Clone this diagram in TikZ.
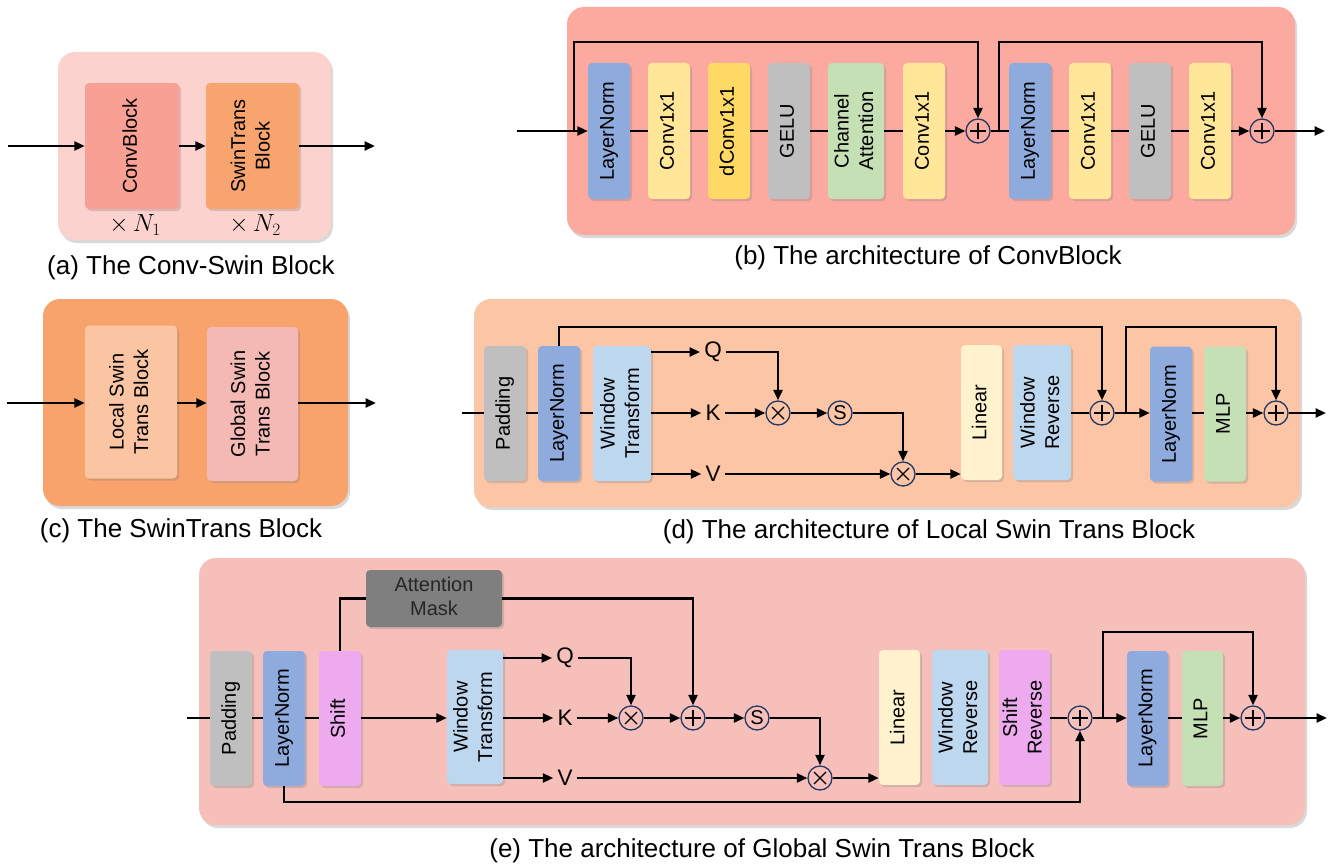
\documentclass[tikz,border=0pt]{standalone}
\usepackage{fontspec}
\usepackage{graphicx}
\setmainfont{Liberation Sans}
\usetikzlibrary{arrows.meta,shadows,calc}

\definecolor{bgA}{RGB}{252,210,207}
\definecolor{convC}{RGB}{249,160,148}
\definecolor{swinC}{RGB}{248,164,110}
\definecolor{bgB}{RGB}{252,169,160}
\definecolor{lnC}{RGB}{143,170,220}
\definecolor{c11C}{RGB}{255,230,153}
\definecolor{dcC}{RGB}{255,217,102}
\definecolor{grC}{RGB}{191,191,191}
\definecolor{grnC}{RGB}{197,224,180}
\definecolor{bgC}{RGB}{248,163,107}
\definecolor{locC}{RGB}{251,196,162}
\definecolor{gloC}{RGB}{244,185,181}
\definecolor{bgD}{RGB}{252,197,165}
\definecolor{wtC}{RGB}{189,215,238}
\definecolor{linC}{RGB}{255,242,204}
\definecolor{bgE}{RGB}{247,191,186}
\definecolor{shC}{RGB}{238,170,238}
\definecolor{amC}{RGB}{127,127,127}
\definecolor{navyC}{RGB}{32,56,100}

\newcommand\vt[1]{\rotatebox{90}{\begin{tabular}{@{}c@{}}#1\end{tabular}}}

\tikzset{
  panel/.style={rounded corners=17pt, draw=none, inner sep=0pt,
    drop shadow={shadow xshift=2pt, shadow yshift=-3pt, opacity=0.3}},
  blk/.style={rounded corners=4pt, draw=none, inner sep=0pt,
    font=\fontsize{20}{24.5}\selectfont,
    drop shadow={shadow xshift=2pt, shadow yshift=-2pt, opacity=0.3}},
  conn/.style={line width=2.4pt, black},
  arr/.style={conn, -{Triangle[length=10.5pt,width=9pt]}},
  op/.style={circle, draw=navyC, line width=1.3pt, minimum size=24pt, inner sep=0pt},
  oplus/.style={op, path picture={
    \draw[black, line width=1.3pt]
      ($(path picture bounding box.center)+(-8pt,0pt)$) -- ++(16pt,0pt)
      ($(path picture bounding box.center)+(0pt,-8pt)$) -- ++(0pt,16pt);}},
  otimes/.style={op, path picture={
    \draw[black, line width=1.3pt]
      ($(path picture bounding box.center)+(-6pt,-6pt)$) -- ++(12pt,12pt)
      ($(path picture bounding box.center)+(-6pt,6pt)$) -- ++(12pt,-12pt);}},
  osm/.style={op, font=\fontsize{20}{24}\selectfont},
  lbl/.style={inner sep=4pt, font=\fontsize{22.5}{26}\selectfont},
  captxt/.style={inner sep=0pt, font=\fontsize{26}{30}\selectfont},
  mult/.style={inner sep=0pt, font=\fontsize{25}{30}\selectfont},
}

\begin{document}
\begin{tikzpicture}[x=1pt, y=-1pt]
\useasboundingbox (0,0) rectangle (1335,867);

% ================= (a) =================
\node[panel, fill=bgA, minimum width=273pt, minimum height=188pt] (pa) at (194.5,146) {};
\node[blk, fill=convC, minimum width=94pt, minimum height=126pt] (convb) at (132,146) {\vt{ConvBlock}};
\node[blk, fill=swinC, minimum width=93pt, minimum height=126pt] (swinb) at (252.5,146) {\vt{SwinTrans\\Block}};
\node[mult] (n1) at (135,225) {$\times\,N_1$};
\node[mult] (n2) at (255,225) {$\times\,N_2$};
\coordinate (ain) at (8,146);
\coordinate (aout) at (375,146);
\draw[arr] (ain) -- (convb);
\draw[arr] (convb) -- (swinb);
\draw[arr] (swinb) -- (aout);
\node[captxt] (capa) at (191,268) {(a) The Conv-Swin Block};

% ================= (b) =================
\node[panel, fill=bgB, minimum width=728pt, minimum height=228pt] (pb) at (931,121) {};
\node[blk, fill=lnC, minimum width=42pt, minimum height=136pt] (bln1) at (609,131) {\vt{LayerNorm}};
\node[blk, fill=c11C, minimum width=42pt, minimum height=136pt] (bc1) at (669,131) {\vt{Conv1x1}};
\node[blk, fill=dcC, minimum width=42pt, minimum height=136pt] (bdc) at (729,131) {\vt{dConv1x1}};
\node[blk, fill=grC, minimum width=42pt, minimum height=136pt] (bg1) at (789,131) {\vt{GELU}};
\node[blk, fill=grnC, minimum width=56pt, minimum height=136pt] (bca) at (856,131) {\vt{Channel\\Attention}};
\node[blk, fill=c11C, minimum width=42pt, minimum height=136pt] (bc2) at (924,131) {\vt{Conv1x1}};
\node[oplus] (bp1) at (978,131) {};
\node[blk, fill=lnC, minimum width=42pt, minimum height=136pt] (bln2) at (1030,131) {\vt{LayerNorm}};
\node[blk, fill=c11C, minimum width=42pt, minimum height=136pt] (bc3) at (1090,131) {\vt{Conv1x1}};
\node[blk, fill=grC, minimum width=42pt, minimum height=136pt] (bg2) at (1150,131) {\vt{GELU}};
\node[blk, fill=c11C, minimum width=42pt, minimum height=136pt] (bc4) at (1210,131) {\vt{Conv1x1}};
\node[oplus] (bp2) at (1262,131) {};
\coordinate (bin) at (517,131);
\coordinate (bout) at (1325,131);
\coordinate (bs1) at (574,131);
\coordinate (bs2) at (999,131);
\draw[arr] (bin) -- (bln1);
\draw[conn] (bln1) -- (bc1);
\draw[conn] (bc1) -- (bdc);
\draw[conn] (bdc) -- (bg1);
\draw[conn] (bg1) -- (bca);
\draw[conn] (bca) -- (bc2);
\draw[arr] (bc2) -- (bp1);
\draw[conn] (bp1) -- (bln2);
\draw[conn] (bln2) -- (bc3);
\draw[conn] (bc3) -- (bg2);
\draw[conn] (bg2) -- (bc4);
\draw[arr] (bc4) -- (bp2);
\draw[arr] (bp2) -- (bout);
\draw[arr] (bs1) -- ++(0,-89) -| (bp1.north);
\draw[arr] (bs2) -- ++(0,-89) -| (bp2.north);
\node[captxt] (capb) at (928,258) {(b) The architecture of ConvBlock};

% ================= (c) =================
\node[panel, fill=bgC, minimum width=305pt, minimum height=207pt] (pc) at (195.5,402.5) {};
\node[blk, fill=locC, minimum width=92pt, minimum height=153pt] (loc) at (131,402) {\vt{Local Swin\\Trans Block}};
\node[blk, fill=gloC, minimum width=91pt, minimum height=154pt] (glo) at (252.5,404) {\vt{Global Swin\\Trans Block}};
\coordinate (cin) at (7,403);
\coordinate (cout) at (376,403);
\draw[arr] (cin) -- (cin -| loc.west);
\draw[arr] (loc.east |- cin) -- (glo.west |- cin);
\draw[arr] (glo.east |- cin) -- (cout);
\node[captxt] (capc) at (181,531) {(c) The SwinTrans Block};

% ================= (d) =================
\node[panel, fill=bgD, minimum width=826pt, minimum height=208pt] (pd) at (887,403) {};
\node[blk, fill=grC, minimum width=42pt, minimum height=135pt] (dpad) at (505,413.5) {\vt{Padding}};
\node[blk, fill=lnC, minimum width=42pt, minimum height=135pt] (dln) at (559,413.5) {\vt{LayerNorm}};
\node[blk, fill=wtC, minimum width=58pt, minimum height=135pt] (dwt) at (622,413.5) {\vt{Window\\Transform}};
\node[lbl] (dq) at (713,352) {Q};
\node[lbl] (dk) at (713,413) {K};
\node[lbl] (dv) at (713,474) {V};
\node[otimes] (dm1) at (778,413) {};
\node[osm] (ds) at (840,413) {S};
\node[otimes] (dm2) at (903,474) {};
\node[blk, fill=linC, minimum width=41pt, minimum height=135pt] (dlin) at (981.5,412.5) {\vt{Linear}};
\node[blk, fill=wtC, minimum width=58pt, minimum height=135pt] (dwr) at (1042,412.5) {\vt{Window\\Reverse}};
\node[oplus] (dp1) at (1102,413) {};
\node[blk, fill=lnC, minimum width=42pt, minimum height=135pt] (dln2) at (1171,414) {\vt{LayerNorm}};
\node[blk, fill=grnC, minimum width=42pt, minimum height=135pt] (dmlp) at (1225,414) {\vt{MLP}};
\node[oplus] (dp2) at (1276,413) {};
\coordinate (din) at (462,413);
\coordinate (dout) at (1326,413);
\coordinate (dsk) at (1126,413);
\draw[conn] (din) -- (din -| dpad.west);
\draw[conn] (dpad.east |- din) -- (dln.west |- din);
\draw[conn] (dln.east |- din) -- (dwt.west |- din);
\draw[arr] (dwt.east |- dq) -- (dq);
\draw[arr] (dwt.east |- dk) -- (dk);
\draw[arr] (dwt.east |- dv) -- (dv);
\draw[arr] (dq.east) -| (dm1.north);
\draw[arr] (dk) -- (dm1);
\draw[arr] (dm1) -- (ds);
\draw[arr] (ds.east) -| (dm2.north);
\draw[arr] (dv) -- (dm2);
\draw[arr] (dm2) -- (dm2 -| dlin.west);
\draw[conn] (dwr.east |- dp1) -- (dp1);
\draw[arr] (dln.north) -- ++(0,-19) -| (dp1.north);
\draw[arr] (dp1) -- (dp1 -| dln2.west);
\draw[arr] (dsk) -- ++(0,-86) -| (dp2.north);
\draw[conn] (dln2.east |- dp2) -- (dmlp.west |- dp2);
\draw[arr] (dmlp.east |- dp2) -- (dp2);
\draw[arr] (dp2) -- (dout);
\node[captxt] (capd) at (929,532) {(d) The architecture of Local Swin Trans Block};

% ================= (e) =================
\node[panel, fill=bgE, minimum width=1106pt, minimum height=267pt] (pe) at (752,691.5) {};
\node[blk, fill=grC, minimum width=42pt, minimum height=135pt] (epad) at (231,718.5) {\vt{Padding}};
\node[blk, fill=lnC, minimum width=42pt, minimum height=135pt] (eln) at (284,718.5) {\vt{LayerNorm}};
\node[blk, fill=shC, minimum width=42pt, minimum height=135pt] (esh) at (340,718.5) {\vt{Shift}};
\node[blk, fill=amC, text=black!85, minimum width=136pt, minimum height=57pt] (eam) at (434,598.5) {\begin{tabular}{@{}c@{}}Attention\\Mask\end{tabular}};
\node[blk, fill=wtC, minimum width=56pt, minimum height=134pt] (ewt) at (475,717) {\vt{Window\\Transform}};
\node[lbl] (eq) at (565,658) {Q};
\node[lbl] (ek) at (565,718) {K};
\node[lbl] (ev) at (565,778) {V};
\node[otimes] (em1) at (631,718) {};
\node[oplus] (ep) at (693,718) {};
\node[osm] (es) at (757,718) {S};
\node[otimes] (em2) at (820,778) {};
\node[blk, fill=linC, minimum width=41pt, minimum height=135pt] (elin) at (899.5,717.5) {\vt{Linear}};
\node[blk, fill=wtC, minimum width=56pt, minimum height=135pt] (ewr) at (960,717.5) {\vt{Window\\Reverse}};
\node[blk, fill=shC, minimum width=51pt, minimum height=135pt] (esr) at (1024.5,717.5) {\vt{Shift\\Reverse}};
\node[oplus] (epp1) at (1080,718) {};
\node[blk, fill=lnC, minimum width=41pt, minimum height=135pt] (eln2) at (1147.5,718.5) {\vt{LayerNorm}};
\node[blk, fill=grnC, minimum width=41pt, minimum height=135pt] (emlp) at (1202.5,718.5) {\vt{MLP}};
\node[oplus] (epp2) at (1253,718) {};
\coordinate (ein) at (187,718);
\coordinate (eout) at (1327,718);
\coordinate (esk) at (1103,718);
\draw[conn] (ein) -- (ein -| epad.west);
\draw[conn] (epad.east |- ein) -- (eln.west |- ein);
\draw[conn] (eln.east |- ein) -- (esh.west |- ein);
\draw[arr] (esh.east |- ein) -- (ewt.west |- ein);
\draw[conn] (esh.north) |- (eam.west);
\draw[arr] (eam.east) -| (ep.north);
\draw[arr] (ewt.east |- eq) -- (eq);
\draw[arr] (ewt.east |- ek) -- (ek);
\draw[arr] (ewt.east |- ev) -- (ev);
\draw[arr] (eq.east) -| (em1.north);
\draw[arr] (ek) -- (em1);
\draw[arr] (em1) -- (ep);
\draw[arr] (ep) -- (es);
\draw[arr] (es.east) -| (em2.north);
\draw[arr] (ev) -- (em2);
\draw[arr] (em2) -- (em2 -| elin.west);
\draw[conn] (esr.east |- epp1) -- (epp1);
\draw[arr] (eln.south) -- ++(0,16) -| (epp1.south);
\draw[arr] (epp1) -- (epp1 -| eln2.west);
\draw[arr] (esk) -- ++(0,-86) -| (epp2.north);
\draw[conn] (eln2.east |- epp2) -- (emlp.west |- epp2);
\draw[arr] (emlp.east |- epp2) -- (epp2);
\draw[arr] (epp2) -- (eout);
\node[captxt] (cape) at (762,851) {(e) The architecture of Global Swin Trans Block};
\end{tikzpicture}
\end{document}
